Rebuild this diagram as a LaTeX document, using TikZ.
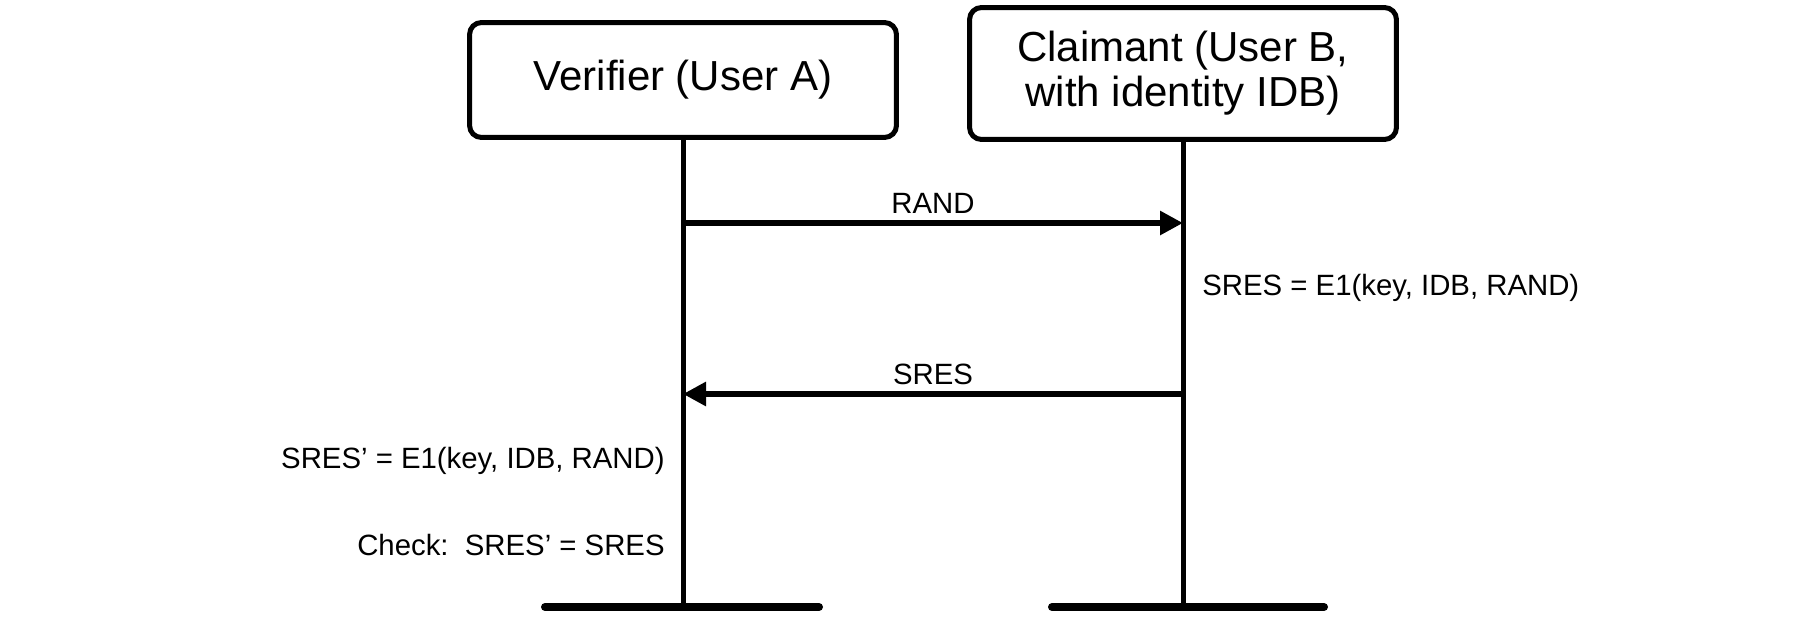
\documentclass[tikz,border=0pt]{standalone}
\usepackage{fontspec}
\setmainfont{Liberation Sans}
\usetikzlibrary{
    arrows.meta,
    calc
}
\tikzset {
    actor/.style = {
        draw, rounded corners = 0.24cm, line width = 0.1cm,
        minimum width = 8.54cm, align = center,
        font = \fontsize{23.9}{25.6}\selectfont
    },
    lifeline/.style = {line width = 0.1cm},
    message/.style = {
        line width = 0.12cm,
        arrows = {-Triangle[length = 0.46cm 0 0, width = 0.46cm 0 0]}
    },
    ground/.style = {line width = 0.16cm, line cap = round},
    note/.style = {inner sep = 0pt, font = \fontsize{16.7}{20}\selectfont},
}

\begin{document}
\begin{tikzpicture}[x = 0.02cm, y = -0.02cm]
    \useasboundingbox (0, 0) rectangle (1808, 616);
    % the two parties
    \node (verifier) [actor, minimum height = 2.3cm] at (683, 80) {Verifier (User A)};
    \node (claimant) [actor, minimum height = 2.64cm] at (1183, 73.5) {Claimant (User B,\\with identity IDB)};
    \coordinate (endA) at (683, 607);
    \coordinate (endB) at (1183, 607);
    \draw [lifeline] (verifier.south) -- (endA);
    \draw [lifeline] (claimant.south) -- (endB);
    \draw [ground] (545, 607) coordinate (groundA1) -- (819, 607) coordinate (groundA2);
    \draw [ground] (1052, 607) coordinate (groundB1) -- (1324, 607) coordinate (groundB2);
    % messages
    \coordinate (a1) at (683, 223);
    \coordinate (b1) at (1183, 223);
    \coordinate (a2) at (683, 394);
    \coordinate (b2) at (1183, 394);
    \draw [message] (a1) -- (b1) node [note, midway, above = 0.13cm] {RAND};
    \draw [message] (b2) -- (a2) node [note, midway, above = 0.13cm] {SRES};
    % local computations
    \node (calcB) [note, right = 0.38cm] at (1183, 288) {SRES = E1(key, IDB, RAND)};
    \node (calcA) [note, left = 0.36cm] at (683, 461) {SRES’ = E1(key, IDB, RAND)};
    \node (check) [note, left = 0.36cm] at (683, 545) {Check:\ \ SRES’ = SRES};
\end{tikzpicture}
\end{document}
